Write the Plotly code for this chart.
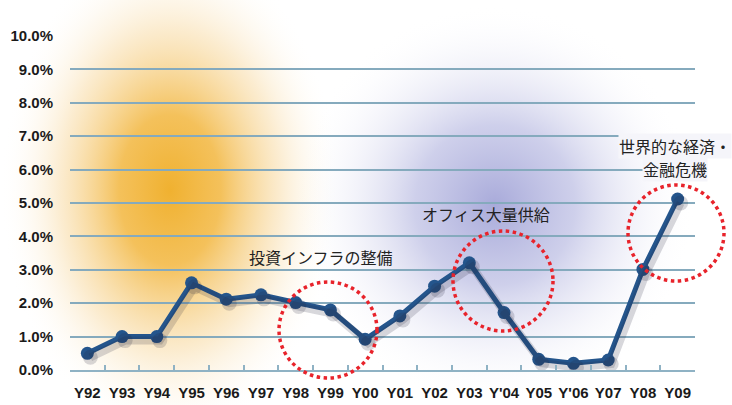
import base64
import plotly.graph_objects as go

years = ["Y92", "Y93", "Y94", "Y95", "Y96", "Y97", "Y98", "Y99", "Y00", "Y01",
         "Y02", "Y03", "Y'04", "Y05", "Y'06", "Y07", "Y08", "Y09"]
rates = [0.5, 1.0, 1.0, 2.61, 2.12, 2.25, 2.02, 1.8, 0.92, 1.62,
         2.51, 3.21, 1.72, 0.32, 0.2, 0.3, 3.01, 5.12]
y_ticks = [0, 1, 2, 3, 4, 5, 6, 7, 8, 9, 10]

W, H = 732, 405
L, R, T, B = 70, 37, 36, 35
PW, PH = W - L - R, H - T - B


def px_x(px):
    return (px - L) / PW


def px_y(py):
    return (H - B - py) / PH


# soft background blobs (decoration)
svg = f'''<svg xmlns="http://www.w3.org/2000/svg" width="{W}" height="{H}">
<defs>
<radialGradient id="o" cx="170" cy="190" r="250" gradientUnits="userSpaceOnUse"
  gradientTransform="translate(170 190) scale(0.68 1.0) translate(-170 -190)">
<stop offset="0" stop-color="#F0B130" stop-opacity="1"/>
<stop offset="0.3" stop-color="#F2B63E" stop-opacity="0.85"/>
<stop offset="0.65" stop-color="#F6D08A" stop-opacity="0.4"/>
<stop offset="1" stop-color="#FFFFFF" stop-opacity="0"/>
</radialGradient>
<radialGradient id="b" cx="495" cy="205" r="200" gradientUnits="userSpaceOnUse">
<stop offset="0" stop-color="#A4A6D8" stop-opacity="0.95"/>
<stop offset="0.4" stop-color="#B4B6E0" stop-opacity="0.65"/>
<stop offset="1" stop-color="#FFFFFF" stop-opacity="0"/>
</radialGradient>
</defs>
<rect width="{W}" height="{H}" fill="#FFFFFF"/>
<rect width="{W}" height="{H}" fill="url(#b)"/>
<rect width="{W}" height="{H}" fill="url(#o)"/>
</svg>'''
bg = "data:image/svg+xml;base64," + base64.b64encode(svg.encode()).decode()

fig = go.Figure()

# shadow of the line
fig.add_trace(go.Scatter(
    x=years, y=rates, mode="lines+markers", xaxis="x2", yaxis="y2",
    line=dict(color="rgba(40,40,60,0.18)", width=8),
    marker=dict(size=15, color="rgba(40,40,60,0.18)"),
    hoverinfo="skip", showlegend=False))

fig.add_trace(go.Scatter(
    x=years, y=rates, mode="lines+markers",
    line=dict(color="#24558C", width=5),
    marker=dict(size=13, color="#24558C"),
    showlegend=False, cliponaxis=False))

dx = 3 / (PW / 18)
dy = 4 / (PH / 10)

fig.update_layout(
    width=W, height=H,
    margin=dict(l=L, r=R, t=T, b=B),
    paper_bgcolor="rgba(0,0,0,0)",
    plot_bgcolor="rgba(0,0,0,0)",
    images=[dict(source=bg, xref="paper", yref="paper",
                 x=-L / PW, y=(H - B) / PH, sizex=W / PW, sizey=H / PH,
                 xanchor="left", yanchor="top", sizing="stretch", layer="below")],
    xaxis=dict(
        type="category", range=[-0.5, 17.5], tickangle=0, automargin=False,
        showgrid=False, showline=True, linecolor="#8FB2C4", linewidth=1.5,
        ticks="inside", tickson="boundaries", ticklen=5, tickcolor="#8FB2C4",
        tickwidth=1.5, ticklabelstandoff=8,
        tickfont=dict(family="Liberation Sans", size=15, color="#1a1a1a", weight="bold"),
        zeroline=False, fixedrange=True),
    xaxis2=dict(type="category", range=[-0.5 - dx, 17.5 - dx], overlaying="x",
                visible=False, fixedrange=True),
    yaxis=dict(
        range=[0, 10], tickvals=y_ticks, ticktext=[f"{v:.1f}%" for v in y_ticks],
        showgrid=True, gridcolor="#85AABD", gridwidth=1.5, automargin=False,
        zeroline=False, showline=False, ticks="", ticklabelstandoff=16,
        tickfont=dict(family="Liberation Sans", size=15, color="#1a1a1a", weight="bold"),
        fixedrange=True),
    yaxis2=dict(range=[0 + dy, 10 + dy], overlaying="y", visible=False, fixedrange=True),
)

# dotted red circles (pixel-based decoration)
circles = [(328, 330, 49, 48), (503, 281, 50, 50), (676, 233, 48, 48)]
for cx, cy, rx, ry in circles:
    fig.add_shape(type="circle", xref="paper", yref="paper",
                  x0=px_x(cx - rx), x1=px_x(cx + rx),
                  y0=px_y(cy + ry), y1=px_y(cy - ry),
                  line=dict(color="#E8232B", width=3.5, dash="dot"),
                  layer="above")

notes = [
    ("投資インフラの整備", 321, 257, None),
    ("オフィス大量供給", 486, 214, None),
    ("世界的な経済・", 675, 146, "#F5F5FA"),
    ("金融危機", 675, 169, "#F5F5FA"),
]
for txt, ax_, ay_, bgc in notes:
    fig.add_annotation(text=txt, xref="paper", yref="paper",
                       x=px_x(ax_), y=px_y(ay_), showarrow=False,
                       xanchor="center", yanchor="middle",
                       bgcolor=bgc if bgc else "rgba(0,0,0,0)", borderpad=0,
                       font=dict(family="Noto Sans CJK JP", size=16, color="#222222"))

fig.write_html("out.html")
